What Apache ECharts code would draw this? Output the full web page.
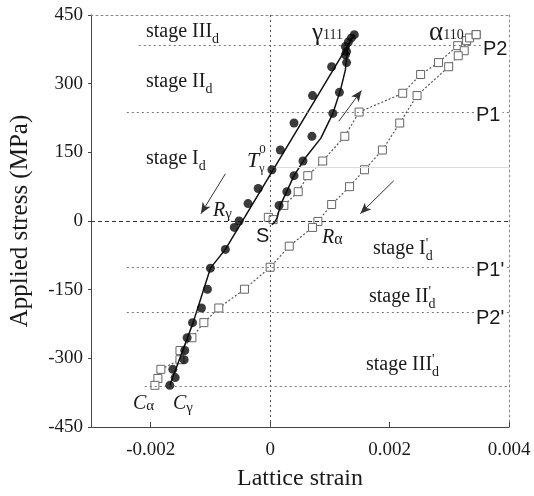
<!DOCTYPE html>
<html>
<head>
<meta charset="utf-8">
<script src="https://cdn.jsdelivr.net/npm/echarts@6/dist/echarts.min.js"></script>
<style>
  html, body { margin: 0; padding: 0; background: #fff; }
  #chart { width: 534px; height: 496px; }
</style>
</head>
<body>
<div id="chart"></div>
<script>
// gamma 111 : filled circles [strain, stress MPa]
var gammaUp = [[0.00015, 34], [0.00028, 64], [0.00040, 99], [0.00055, 131], [0.00070, 185],
  [0.00105, 235], [0.00116, 281], [0.00128, 346], [0.00126, 363], [0.00128, 370],
  [0.00126, 381], [0.00131, 391], [0.00136, 400], [0.00141, 407]];
var gammaDown = [[0.00103, 337], [0.00071, 274], [0.00040, 214], [0.00017, 155], [0.00003, 112],
  [-0.00020, 71], [-0.00037, 38], [-0.00052, 0], [-0.00060, -14], [-0.00075, -62],
  [-0.00100, -103], [-0.00105, -149], [-0.00115, -190], [-0.00130, -222], [-0.00139, -255],
  [-0.00143, -283], [-0.00144, -303], [-0.00163, -324], [-0.00159, -342], [-0.00168, -359]];
// fitted curves drawn through the gamma points
var gammaUpFit = [[0.00003, -8], [0.00008, -2], [0.00012, 8], [0.00017, 34], [0.00040, 99], [0.00060, 140],
  [0.00085, 181], [0.00105, 235], [0.00118, 287], [0.00126, 330], [0.00129, 370], [0.00134, 395], [0.00141, 407]];
var gammaDownFit = [[0.00141, 407], [-0.00075, -62], [-0.00100, -103], [-0.00129, -222], [-0.00168, -359]];

// alpha 110 : open squares
var alphaUp = [[-0.00003, 8], [0.00005, 3], [0.00023, 34], [0.00047, 64], [0.00063, 99],
  [0.00088, 131], [0.00125, 185], [0.00149, 238], [0.00222, 279], [0.00252, 320],
  [0.00282, 346], [0.00314, 383], [0.00329, 394], [0.00334, 400], [0.00345, 407]];
var alphaDown = [[0.00345, 407], [0.00325, 372], [0.00315, 361], [0.00299, 337], [0.00246, 274],
  [0.00217, 214], [0.00188, 155], [0.00158, 112], [0.00133, 75], [0.00103, 36],
  [0.00080, -1], [0.00071, -14], [0.00032, -55], [0.00000, -101], [-0.00043, -149],
  [-0.00086, -190], [-0.00111, -222], [-0.00131, -255], [-0.00151, -283], [-0.00151, -303],
  [-0.00183, -324], [-0.00188, -344], [-0.00193, -359]];

var xTicks = [-0.002, 0, 0.002, 0.004];
// stage boundaries (stress) and where their dotted lines start (strain)
var stageLevels = [385, 238, -100, -200, -360];
var stageStart = [-0.0022, -0.0024, -0.0024, -0.0024, -0.0021];
var faintLevel = 118;

var serif = '"Liberation Serif", "DejaVu Serif", serif';
var sans = '"Liberation Sans", Arial, sans-serif';

var myChart = echarts.init(document.getElementById('chart'));

// measure text for sub/superscripts
var ctx = document.createElement('canvas').getContext('2d');
function tw(txt, font) { ctx.font = font; return ctx.measureText(txt).width; }

// parts: [text, size, dy, family, italic, noAdvance]
function seg(x, y, parts, bg) {
  var els = [];
  var cx = x;
  parts.forEach(function (p) {
    var font = (p[4] ? 'italic ' : '') + p[1] + 'px ' + (p[3] || serif);
    els.push({
      type: 'text', x: cx, y: y + (p[2] || 0), z: 100,
      style: {
        text: p[0], font: font, fill: '#1a1a1a',
        textAlign: 'left', align: 'left',
        textVerticalAlign: 'middle', verticalAlign: 'middle',
        backgroundColor: bg ? '#fff' : null, padding: bg ? [0, 2] : 0
      }
    });
    if (!p[5]) cx += tw(p[0], font);
  });
  return els;
}

var g = [];
g = g.concat(seg(146, 32, [['stage III', 20], ['d', 14, 7]]));
g = g.concat(seg(146, 82, [['stage II', 20], ['d', 14, 7]]));
g = g.concat(seg(146, 159, [['stage I', 20], ['d', 14, 7]]));
g = g.concat(seg(247, 161, [['T', 22, 0, serif, true], ['0', 13, -11, serif, false, true], ['γ', 12, 8]]));
g = g.concat(seg(213, 211, [['R', 20, 0, serif, true], ['γ', 15, 3]]));
g = g.concat(seg(256, 236, [['S', 20, 0, sans]]));
g = g.concat(seg(322, 238, [['R', 20, 0, serif, true], ['α', 16, 2]]));
g = g.concat(seg(312, 33, [['γ', 25], ['111', 14, 2]]));
g = g.concat(seg(429, 33, [['α', 27], ['110', 14, 2]]));
g = g.concat(seg(481, 49, [['P2', 20, 0, sans]], true));
g = g.concat(seg(474, 115, [['P1', 20, 0, sans]], true));
g = g.concat(seg(474, 270, [['P1\'', 20, 0, sans]], true));
g = g.concat(seg(474, 318, [['P2\'', 20, 0, sans]], true));
g = g.concat(seg(373, 249, [['stage I', 20], ['\'', 14, -5, serif, false, true], ['d', 14, 7]]));
g = g.concat(seg(369, 297, [['stage II', 20], ['\'', 14, -5, serif, false, true], ['d', 14, 7]]));
g = g.concat(seg(366, 365, [['stage III', 20], ['\'', 14, -5, serif, false, true], ['d', 14, 7]]));
g = g.concat(seg(133, 404, [['C', 20, 0, serif, true], ['α', 15, 2]]));
g = g.concat(seg(173, 404, [['C', 20, 0, serif, true], ['γ', 15, 4]]));

// reference lines + arrows
var refLines = [];
refLines.push([{ coord: [-0.003, 0], lineStyle: { type: [4, 3], color: '#333', width: 1 } }, { coord: [0.004, 0] }]);
refLines.push([{ coord: [0, -450], lineStyle: { type: [2, 3], color: '#555', width: 1 } }, { coord: [0, 450] }]);
stageLevels.forEach(function (v, i) {
  refLines.push([{ coord: [stageStart[i], v], lineStyle: { type: [2, 3], color: '#777', width: 1 } }, { coord: [0.004, v] }]);
});
refLines.push([{ coord: [0, faintLevel], lineStyle: { type: 'solid', color: '#ddd', width: 1 } }, { coord: [0.004, faintLevel] }]);
function arrow(a, b) {
  return [{ coord: a, symbol: 'none', lineStyle: { type: 'solid', color: '#333', width: 1 } },
          { coord: b, symbol: 'arrow', symbolSize: [7, 11] }];
}
refLines.push(arrow([-0.00075, 103], [-0.00116, 16]));
refLines.push(arrow([0.00115, 218], [0.00153, 285]));
refLines.push(arrow([0.00207, 88], [0.00151, 16]));

var frameStyle = { show: true, onZero: false, lineStyle: { color: '#888', type: [2, 3], width: 1 } };

myChart.setOption({
  backgroundColor: '#fff',
  animation: false,
  grid: { left: 90, right: 25, top: 15, bottom: 66 },
  xAxis: [{
    type: 'value', min: -0.003, max: 0.004, interval: 0.001,
    name: 'Lattice strain', nameLocation: 'middle', nameGap: 40,
    nameTextStyle: { fontFamily: serif, fontSize: 24, color: '#1a1a1a' },
    axisLine: { show: true, onZero: false, lineStyle: { color: '#444', width: 1 } },
    axisTick: { show: true, inside: true, length: 5, customValues: xTicks, lineStyle: { color: '#444' } },
    axisLabel: {
      fontFamily: serif, fontSize: 19, color: '#1a1a1a', margin: 14, customValues: xTicks,
      formatter: function (v) {
        var k = Math.round(v * 1000);
        if (k % 2 !== 0) return '';
        return k === 0 ? '0' : (k / 1000).toFixed(3);
      }
    },
    splitLine: { show: false }
  }, {
    type: 'value', min: -0.003, max: 0.004, position: 'top',
    axisLine: frameStyle, axisTick: { show: false }, axisLabel: { show: false }, splitLine: { show: false }
  }],
  yAxis: [{
    type: 'value', min: -450, max: 450, interval: 150,
    name: 'Applied stress (MPa)', nameLocation: 'middle', nameGap: 58,
    nameTextStyle: { fontFamily: serif, fontSize: 25, color: '#1a1a1a' },
    axisLine: { show: true, onZero: false, lineStyle: { color: '#444', width: 1 } },
    axisTick: { show: true, inside: false, length: 3, lineStyle: { color: '#444' } },
    axisLabel: { fontFamily: serif, fontSize: 19, color: '#1a1a1a', margin: 8 },
    splitLine: { show: false }
  }, {
    type: 'value', min: -450, max: 450, position: 'right',
    axisLine: frameStyle, axisTick: { show: false }, axisLabel: { show: false }, splitLine: { show: false }
  }],
  graphic: g,
  series: [
    {
      type: 'line', data: alphaUp, z: 3,
      symbol: 'rect', symbolSize: 8, showAllSymbol: true,
      lineStyle: { color: '#555', width: 1.2, type: [2, 2] },
      itemStyle: { color: '#fff', borderColor: '#666', borderWidth: 1 },
      markLine: { silent: true, symbol: 'none', label: { show: false }, data: refLines }
    },
    {
      type: 'line', data: alphaDown, z: 3,
      symbol: 'rect', symbolSize: 8, showAllSymbol: true,
      lineStyle: { color: '#555', width: 1.2, type: [2, 2] },
      itemStyle: { color: '#fff', borderColor: '#666', borderWidth: 1 }
    },
    {
      type: 'line', data: gammaUpFit, symbol: 'none', z: 4,
      lineStyle: { color: '#111', width: 1.5 }
    },
    {
      type: 'line', data: gammaDownFit, symbol: 'none', z: 4,
      lineStyle: { color: '#111', width: 1.5 }
    },
    {
      type: 'scatter', data: gammaUp, symbol: 'circle', symbolSize: 9, z: 5,
      itemStyle: { color: '#0a0a0a' }
    },
    {
      type: 'scatter', data: gammaDown, symbol: 'circle', symbolSize: 9, z: 5,
      itemStyle: { color: '#0a0a0a' }
    }
  ]
});
</script>
</body>
</html>
